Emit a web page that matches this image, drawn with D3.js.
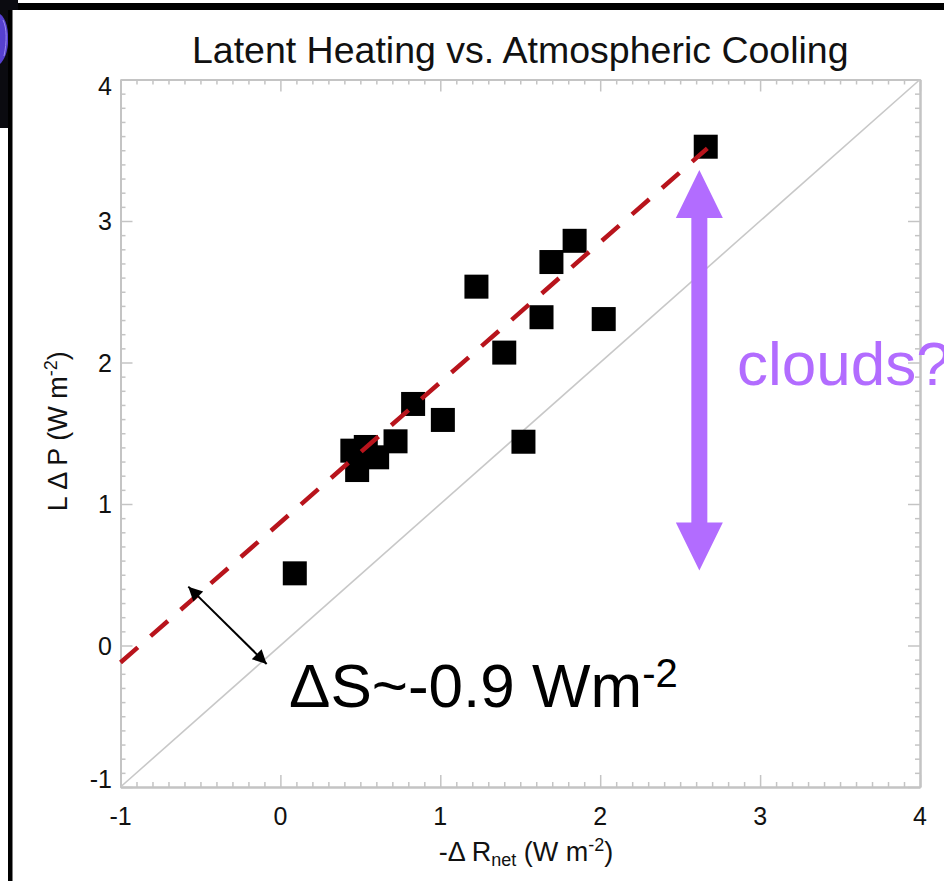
<!DOCTYPE html>
<html>
<head>
<meta charset="utf-8">
<script src="https://cdn.jsdelivr.net/npm/d3@7"></script>
<style>
  body { margin: 0; background: #fff; }
  svg text { font-family: "Liberation Sans", Arial, Helvetica, sans-serif; }
</style>
</head>
<body>
<svg id="chart" width="944" height="881"></svg>
<script>
// data
const pointsX = [0.09, 0.45, 0.534, 0.605, 0.48, 0.72, 0.83, 1.016, 1.226, 1.40, 1.52, 1.633, 1.695, 1.84, 2.022, 2.66];
const pointsY = [0.51, 1.377, 1.403, 1.33, 1.24, 1.443, 1.707, 1.594, 2.536, 2.07, 1.44, 2.32, 2.71, 2.86, 2.307, 3.525];

const xTicks = [-1, 0, 1, 2, 3, 4];
const yTicks = [-1, 0, 1, 2, 3, 4];

// fit line LΔP = slope * (-ΔR) + intercept
const fitSlope = 0.99;
const fitIntercept = 0.87;
const fitRange = [-1, 2.67];

// annotations (data coords)
const cloudArrow = [[2.62, 3.36], [2.62, 0.53]];
const offsetArrow = [[-0.576, 0.416], [-0.086, -0.131]];

const svg = d3.select("svg#chart");

const x = d3.scaleLinear().domain([-1, 4]).range([120.5, 920]);
const y = d3.scaleLinear().domain([-1, 4]).range([787, 79.5]);

const axisColor = "#c4c4c4";

// ---- frame bits from the slide
svg.append("rect").attr("x", 0).attr("y", 0).attr("width", 18).attr("height", 128).attr("fill", "#0b0b10");
svg.append("path")
    .attr("d", "M0,14 C6,18 9,30 8,44 C7,54 4,60 0,64 Z")
    .attr("fill", "#5640d0");
svg.append("path")
    .attr("d", "M3,20 C7,28 7,42 4,56")
    .attr("fill", "none").attr("stroke", "#9c8cf0").attr("stroke-width", 1);
svg.append("rect").attr("x", 12).attr("y", 10).attr("width", 6).attr("height", 118).attr("fill", "#fff");
svg.append("rect").attr("x", 0).attr("y", 128).attr("width", 8).attr("height", 22).attr("fill", "#fff");
svg.append("rect").attr("x", 18).attr("y", 3).attr("width", 926).attr("height", 7).attr("fill", "#000");
svg.append("rect").attr("x", 8).attr("y", 10).attr("width", 4.5).attr("height", 871).attr("fill", "#000");

// ---- title
svg.append("text")
    .attr("x", (x(-1) + x(4)) / 2)
    .attr("y", 63)
    .attr("text-anchor", "middle")
    .attr("font-size", 37.5)
    .attr("fill", "#111")
    .text("Latent Heating vs. Atmospheric Cooling");

// ---- axes (ticks on all four sides, pointing in)
const minorX = d3.range(-10, 41).map(d => d / 10).filter(d => !xTicks.includes(d));
const minorY = d3.range(-10, 41).map(d => d / 10).filter(d => !yTicks.includes(d));

function styleAxis(g) {
    g.selectAll("path.domain").attr("stroke", axisColor).attr("stroke-width", 2);
    g.selectAll(".tick line").attr("stroke", axisColor).attr("stroke-width", 1.5);
    g.selectAll(".tick text").remove();
}

[
    [d3.axisTop, `translate(0,${y(-1)})`, x],
    [d3.axisBottom, `translate(0,${y(4)})`, x]
].forEach(([ax, tr, sc]) => {
    svg.append("g").attr("transform", tr)
        .call(ax(sc).tickValues(xTicks).tickSize(12).tickSizeOuter(0)).call(styleAxis);
    svg.append("g").attr("transform", tr)
        .call(ax(sc).tickValues(minorX).tickSize(5).tickSizeOuter(0)).call(styleAxis);
});
[
    [d3.axisRight, `translate(${x(-1)},0)`, y],
    [d3.axisLeft, `translate(${x(4)},0)`, y]
].forEach(([ax, tr, sc]) => {
    svg.append("g").attr("transform", tr)
        .call(ax(sc).tickValues(yTicks).tickSize(12).tickSizeOuter(0)).call(styleAxis);
    svg.append("g").attr("transform", tr)
        .call(ax(sc).tickValues(minorY).tickSize(5).tickSizeOuter(0)).call(styleAxis);
});

// tick labels
svg.append("g").selectAll("text")
    .data(xTicks)
    .join("text")
        .attr("x", d => x(d))
        .attr("y", 825)
        .attr("text-anchor", "middle")
        .attr("font-size", 25)
        .attr("fill", "#111")
        .text(d => d);

svg.append("g").selectAll("text")
    .data(yTicks)
    .join("text")
        .attr("x", 112)
        .attr("y", d => Math.min(Math.max(y(d), y(4) + 6), y(-1) - 8))
        .attr("dy", "0.36em")
        .attr("text-anchor", "end")
        .attr("font-size", 25)
        .attr("fill", "#111")
        .text(d => d);

// axis titles
const xTitle = svg.append("text")
    .attr("x", 526)
    .attr("y", 861)
    .attr("text-anchor", "middle")
    .attr("font-size", 27)
    .attr("fill", "#111");
xTitle.append("tspan").text("-\u0394 R");
xTitle.append("tspan").attr("font-size", 18).attr("dy", 5).text("net");
xTitle.append("tspan").attr("dy", -5).text(" (W m");
xTitle.append("tspan").attr("font-size", 18).attr("dy", -10).text("-2");
xTitle.append("tspan").attr("dy", 10).text(")");

const yTitle = svg.append("text")
    .attr("transform", `translate(67,${(y(-1) + y(4)) / 2 - 2}) rotate(-90)`)
    .attr("text-anchor", "middle")
    .attr("font-size", 27)
    .attr("fill", "#111");
yTitle.append("tspan").text("L \u0394 P (W m");
yTitle.append("tspan").attr("font-size", 18).attr("dy", -10).text("-2");
yTitle.append("tspan").attr("dy", 10).text(")");

// ---- identity line
svg.append("line")
    .attr("x1", x(-1)).attr("y1", y(-1))
    .attr("x2", x(4)).attr("y2", y(4))
    .attr("stroke", "#c8c8c8")
    .attr("stroke-width", 1.6);

// ---- points
const sq = 24;
svg.append("g").selectAll("rect")
    .data(d3.zip(pointsX, pointsY))
    .join("rect")
        .attr("x", d => x(d[0]) - sq / 2)
        .attr("y", d => y(d[1]) - sq / 2)
        .attr("width", sq)
        .attr("height", sq)
        .attr("fill", "#000");

// ---- fit line
svg.append("line")
    .attr("x1", x(fitRange[0])).attr("y1", y(fitSlope * fitRange[0] + fitIntercept))
    .attr("x2", x(fitRange[1])).attr("y2", y(fitSlope * fitRange[1] + fitIntercept))
    .attr("stroke", "#b8141c")
    .attr("stroke-width", 4.5)
    .attr("stroke-dasharray", "23,17");

// ---- purple double arrow
const purple = "#b26cff";
{
    const cx = x(cloudArrow[0][0]);
    const y1 = y(cloudArrow[0][1]), y2 = y(cloudArrow[1][1]);
    const hw = 23.5, hl = 48, sw = 8;
    const p = d3.path();
    p.moveTo(cx, y1);
    p.lineTo(cx + hw, y1 + hl);
    p.lineTo(cx + sw, y1 + hl);
    p.lineTo(cx + sw, y2 - hl);
    p.lineTo(cx + hw, y2 - hl);
    p.lineTo(cx, y2);
    p.lineTo(cx - hw, y2 - hl);
    p.lineTo(cx - sw, y2 - hl);
    p.lineTo(cx - sw, y1 + hl);
    p.lineTo(cx - hw, y1 + hl);
    p.closePath();
    svg.append("path").attr("d", p.toString()).attr("fill", purple);
}

svg.append("text")
    .attr("x", 737)
    .attr("y", 385)
    .attr("font-size", 62)
    .attr("fill", purple)
    .text("clouds?");

// ---- black double arrow
svg.append("defs").append("marker")
    .attr("id", "head")
    .attr("viewBox", "0 0 10 10")
    .attr("refX", 10).attr("refY", 5)
    .attr("markerWidth", 8).attr("markerHeight", 7)
    .attr("markerUnits", "strokeWidth")
    .attr("orient", "auto-start-reverse")
    .append("path")
        .attr("d", "M0,0 L10,5 L0,10 Z")
        .attr("fill", "#000");

svg.append("line")
    .attr("x1", x(offsetArrow[0][0])).attr("y1", y(offsetArrow[0][1]))
    .attr("x2", x(offsetArrow[1][0])).attr("y2", y(offsetArrow[1][1]))
    .attr("stroke", "#000")
    .attr("stroke-width", 2)
    .attr("marker-start", "url(#head)")
    .attr("marker-end", "url(#head)");

const ds = svg.append("text")
    .attr("x", 289)
    .attr("y", 707)
    .attr("font-size", 62)
    .attr("fill", "#000");
ds.append("tspan").text("\u0394S~-0.9 Wm");
ds.append("tspan").attr("font-size", 40).attr("dy", -20).text("-2");
</script>
</body>
</html>
